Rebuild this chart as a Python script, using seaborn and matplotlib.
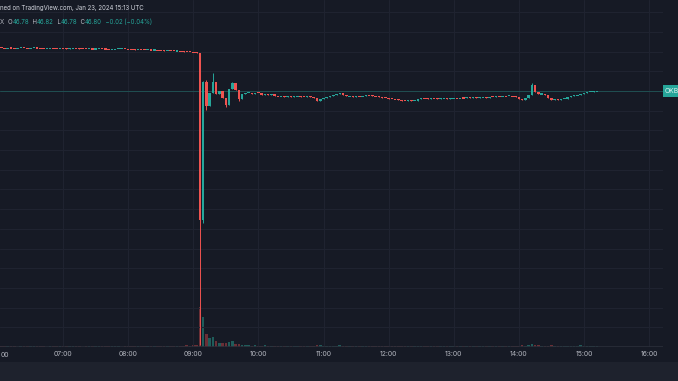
import numpy as np
import pandas as pd
import matplotlib
matplotlib.use("Agg")
import matplotlib.pyplot as plt
import seaborn as sns
from matplotlib.patches import Rectangle
from matplotlib.ticker import MultipleLocator, FixedLocator, NullFormatter

# ---------------- data (3-minute candles from 06:00 UTC, Jan 23 2024) ----------------
candle_minutes = 3
closes = [
    54.70, 54.66, 54.62, 54.68, 54.64, 54.60, 54.66, 54.70, 54.64, 54.62,
    54.66, 54.68, 54.64, 54.60, 54.58, 54.62, 54.66, 54.64, 54.60, 54.62,
    54.58, 54.55, 54.60, 54.64, 54.60, 54.56, 54.52, 54.48, 54.50, 54.46,
    54.50, 54.54, 54.50, 54.46, 54.42, 54.45, 54.48, 54.52, 54.55, 54.48,
    54.44, 54.40, 54.36, 54.38, 54.34, 54.30, 54.32, 54.28, 54.30, 54.26,
    54.22, 54.18, 54.20, 54.15, 54.10, 54.12, 54.06, 54.00, 53.96, 53.92, 53.85, 53.76,
    23.20, 48.40, 44.00, 46.50, 48.50, 46.30, 46.80, 45.60, 44.20, 47.20, 48.20, 46.90, 45.30,
    46.20, 46.40, 46.50, 46.30, 46.50, 46.40, 46.10, 46.30, 46.00, 46.20, 45.90,
    45.80, 45.90, 45.75, 45.85, 45.70, 45.80, 45.90, 45.75, 45.70, 45.85, 45.75, 45.60,
    44.95, 45.30, 45.60, 45.70, 45.90, 46.00, 46.20, 46.45, 46.00, 45.80, 45.90, 45.75, 45.85, 45.80, 45.90,
    46.10, 46.00, 45.90, 45.85, 45.70, 45.60, 45.55, 45.40, 45.35, 45.25, 45.20,
    45.05, 45.00, 45.10, 45.00, 45.05,
    45.30, 45.50, 45.45, 45.40, 45.50, 45.45, 45.35, 45.45, 45.50, 45.40, 45.45, 45.55, 45.45,
    45.55, 45.50, 45.65, 45.60, 45.70, 45.55, 45.65, 45.70, 45.60,
    45.75, 45.70, 45.85, 45.80, 45.90, 45.85, 45.95, 45.80,
    45.70, 45.40, 45.15, 45.60, 46.00, 47.90, 46.60, 46.20, 46.30, 46.10, 45.60, 45.15, 45.30,
    45.20, 45.30, 45.40, 45.70, 45.80, 46.00, 46.10, 46.30, 46.50, 46.60, 46.70, 46.78, 46.80,
]
first_open = 54.68
wick_highs = {62: 53.80, 63: 48.70, 64: 48.80, 66: 50.10, 72: 48.50, 164: 48.30, 184: 46.82}
wick_lows = {62: 0.35, 63: 22.60, 64: 43.30, 70: 43.80, 74: 45.00, 184: 46.78}
volumes = [
    2, 3, 2, 2, 3, 2, 1, 2, 3, 2, 2, 2, 3, 2, 2, 1, 2, 3, 2, 2,
    3, 2, 2, 3, 2, 2, 1, 2, 2, 3, 2, 2, 3, 2, 2, 2, 3, 2, 1, 2,
    2, 3, 2, 2, 2, 3, 2, 2, 3, 2, 2, 3, 3, 2, 3, 2, 3, 3, 4, 3, 4, 5,
    100, 75, 32, 22, 26, 14, 11, 9, 10, 13, 15, 8, 7,
    5, 4, 4, 3, 4, 3, 3, 4, 3, 3, 2,
    3, 2, 2, 3, 2, 2, 3, 2, 2, 2, 3, 2,
    5, 4, 3, 3, 2, 3, 3, 4, 3, 2, 2, 3, 2, 2, 2,
    3, 2, 2, 2, 3, 2, 2, 2, 3, 2, 2,
    2, 3, 2, 2, 2,
    3, 3, 2, 2, 2, 3, 2, 2, 2, 3, 2, 2, 2,
    2, 2, 3, 2, 2, 2, 3, 2, 2,
    2, 2, 3, 2, 2, 3, 2, 2,
    3, 3, 4, 3, 4, 8, 6, 4, 3, 3, 3, 4, 3, 2, 2, 2, 3, 2, 3, 3, 4, 3, 3, 2, 2, 2,
]
hour_ticks = [60, 120, 180, 240, 300, 360, 420, 480, 540, 600]
hour_labels = ["07:00", "08:00", "09:00", "10:00", "11:00", "12:00", "13:00", "14:00", "15:00", "16:00"]
left_edge_label = "00"
header_line1 = "ned on TradingView.com, Jan 23, 2024 15:13 UTC"
ohlc_parts = [("X  ", "gray"), ("O", "gray"), ("46.78", "up"), ("  H", "gray"), ("46.82", "up"),
              ("  L", "gray"), ("46.78", "up"), ("  C", "gray"), ("46.80", "up"),
              ("  \u22120.02 (\u22120.04%)", "up")]
symbol_label = "OKB"
last_price = 46.80

# ---------------- derived table ----------------
n = len(closes)
t = np.arange(n) * candle_minutes
c = np.array(closes)
o = np.concatenate([[first_open], c[:-1]])
h = np.maximum(o, c)
l = np.minimum(o, c)
for k, v in wick_highs.items():
    h[k] = v
for k, v in wick_lows.items():
    l[k] = v
df = pd.DataFrame({"t": t, "open": o, "close": c, "high": h, "low": l, "vol": volumes})
df["dir"] = np.where(df["close"] >= df["open"], "up", "down")

# ---------------- style ----------------
BG = "#161a25"
GRID = "#1f2330"
UP = "#26a69a"
DOWN = "#ef5350"
VUP = "#1f5c5a"
VDOWN = "#6a2f36"
TXT = "#b2b5be"
sns.set_theme(style="dark", rc={"axes.facecolor": BG, "figure.facecolor": BG})
plt.rcParams["font.family"] = ["Inter", "DejaVu Sans"]

W, H = 678, 381
fig = plt.figure(figsize=(W / 100, H / 100), dpi=100)
fig.patches.append(Rectangle((0, 0), 1, 19 / H, transform=fig.transFigure,
                             facecolor="#1e222d", edgecolor="none", zorder=0))

ax_right = 663
ax = fig.add_axes([0, (H - 347) / H, ax_right / W, 347 / H])

px_per_min = 1.085
x0 = -2.0
xlim = ((0 - x0) / px_per_min, (ax_right - x0) / px_per_min)
val_per_px = 0.18281

# volume overlay (drawn underneath the price axes)
axv = ax.twinx()
axv.set_zorder(1)
ax.set_zorder(2)
ax.patch.set_visible(False)
axv.patch.set_visible(True)
axv.set_facecolor(BG)
sns.barplot(data=df, x="t", y="vol", hue="dir", palette={"up": VUP, "down": VDOWN},
            native_scale=True, dodge=False, width=0.8, legend=False, errorbar=None,
            saturation=1, linewidth=0, edgecolor="none", ax=axv)
axv.set_ylim(0, max(volumes) / 0.115)
axv.set_yticks([])
axv.set_ylabel("")
axv.set_xlabel("")
axv.grid(False)
for s in axv.spines.values():
    s.set_visible(False)

ax.set_xlim(*xlim)
ax.set_ylim(0, 347 * val_per_px)
ax.xaxis.set_major_locator(FixedLocator(hour_ticks))
ax.set_xticklabels(hour_labels)
ax.yaxis.set_major_locator(MultipleLocator(3.6))
ax.yaxis.set_major_formatter(NullFormatter())
ax.grid(True, color=GRID, linewidth=0.8, zorder=0)
ax.set_axisbelow(True)
ax.tick_params(axis="x", length=0, pad=3.2, labelsize=4.9, labelcolor=TXT)
ax.tick_params(axis="y", length=0)
for s in ax.spines.values():
    s.set_visible(False)
ax.axhline(0, color="#2a2e39", linewidth=1.2, zorder=1)

# last price line
ax.axhline(last_price, color="#1f4f52", linewidth=0.7, zorder=2)

# candles
colors = np.where(df["dir"] == "up", UP, DOWN)
ax.vlines(df["t"], df["low"], df["high"], colors=colors, linewidth=0.7, zorder=3)
body_bottom = np.minimum(df["open"], df["close"])
body_h = np.maximum(np.abs(df["close"] - df["open"]), 0.2)
ax.bar(df["t"], body_h, bottom=body_bottom - (body_h - np.abs(df["close"] - df["open"])) / 2,
       width=candle_minutes * 0.78, color=colors, linewidth=0, zorder=4)

# partly clipped 06:00 label at left edge
fig.text(0.5 / W, 1 - 355 / H, left_edge_label, ha="left", va="center", fontsize=4.9, color=TXT)

# header
fig.text(0.0, 1 - 8 / H, header_line1, ha="left", va="center", fontsize=4.4, color="#d1d4dc")
xpos = 0.0
renderer = fig.canvas.get_renderer()
for txt, kind in ohlc_parts:
    col = TXT if kind == "gray" else UP
    tt = fig.text(xpos, 1 - 22 / H, txt, ha="left", va="center", fontsize=4.4, color=col)
    bb = tt.get_window_extent(renderer=renderer)
    xpos += bb.width / W

# symbol tag on right edge
y_tag = ax.transData.transform((0, last_price))[1]
fig.patches.append(Rectangle((663 / W, (y_tag - 6) / H), 16 / W, 12 / H, transform=fig.transFigure,
                             facecolor=UP, edgecolor="none", zorder=5))
fig.text(665 / W, y_tag / H, symbol_label, ha="left", va="center", fontsize=4.9,
         color="#e0f2f1", zorder=6)

fig.savefig("out.png", dpi=100, facecolor=BG)
